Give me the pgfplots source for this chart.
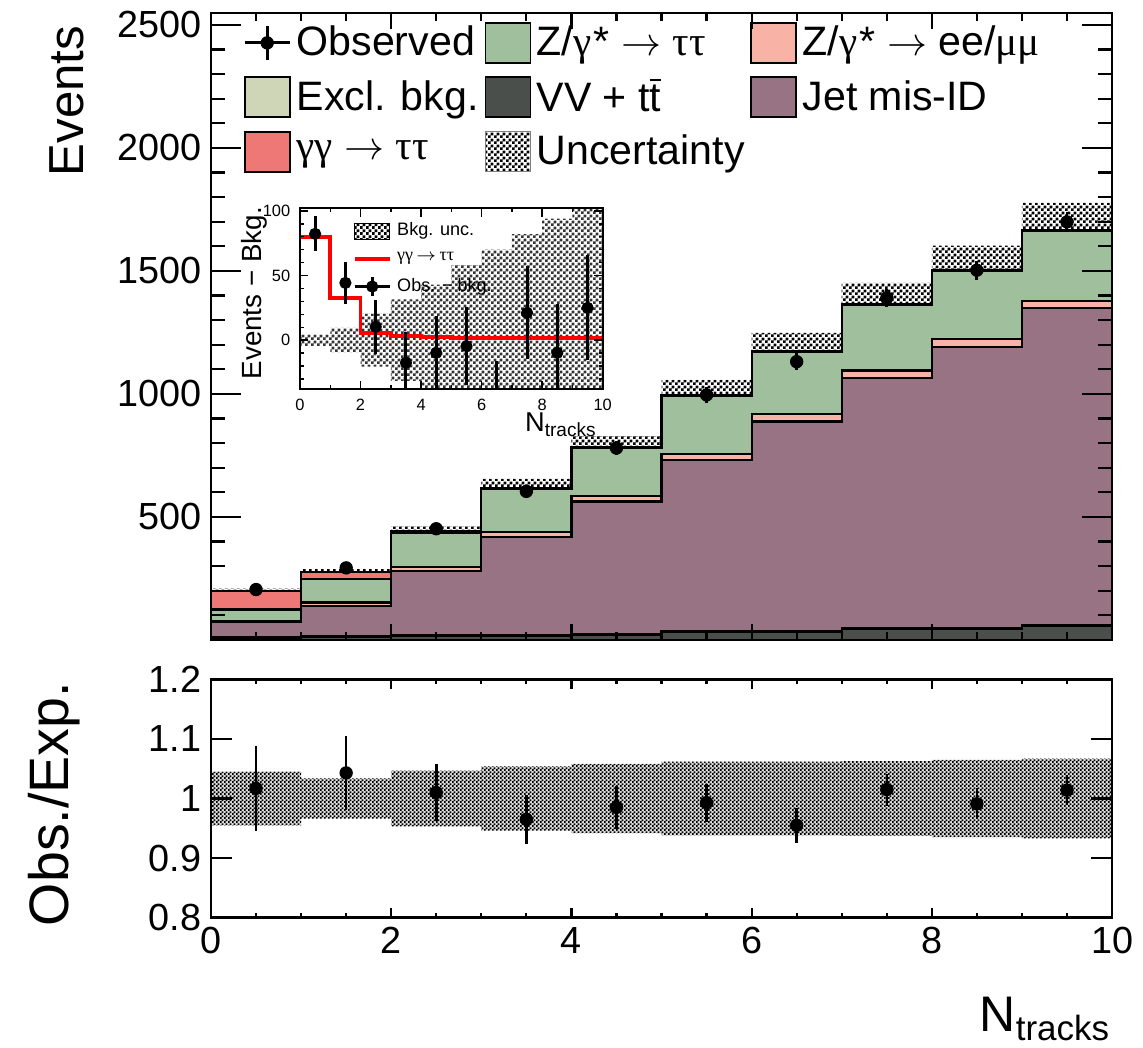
\documentclass[border=0pt]{standalone}
\usepackage{fontspec}
\setmainfont{Liberation Sans}
\newfontfamily\sym{Liberation Serif}
\usepackage{pgfplots}
\usepackage{pgfplotstable}
\pgfplotsset{compat=1.18}
\usepgfplotslibrary{fillbetween}
\usetikzlibrary{patterns}

\definecolor{cztt}{HTML}{9FBF9D}
\definecolor{cee}{HTML}{F8B2A6}
\definecolor{cexcl}{HTML}{CFD5B7}
\definecolor{cvv}{HTML}{4A4F4C}
\definecolor{cjet}{HTML}{987384}
\definecolor{cgg}{HTML}{EE7876}

% ROOT-like checker fill for uncertainty bands
\pgfdeclarepatternformonly{chk}{\pgfqpoint{0pt}{0pt}}{\pgfqpoint{2.2pt}{2.2pt}}{\pgfqpoint{2.2pt}{2.2pt}}{%
  \pgfpathrectangle{\pgfqpoint{0pt}{0pt}}{\pgfqpoint{1.1pt}{1.1pt}}%
  \pgfpathrectangle{\pgfqpoint{1.1pt}{1.1pt}}{\pgfqpoint{1.1pt}{1.1pt}}%
  \pgfusepath{fill}}
\pgfdeclarepatternformonly{chkf}{\pgfqpoint{0pt}{0pt}}{\pgfqpoint{1.5pt}{1.5pt}}{\pgfqpoint{1.5pt}{1.5pt}}{%
  \pgfpathrectangle{\pgfqpoint{0pt}{0pt}}{\pgfqpoint{0.75pt}{0.75pt}}%
  \pgfpathrectangle{\pgfqpoint{0.75pt}{0.75pt}}{\pgfqpoint{0.75pt}{0.75pt}}%
  \pgfusepath{fill}}

\newcommand\tbar{t\llap{\raisebox{0.74em}{\rule{0.26em}{0.06em}}\kern0.01em}}
\newcommand\arr{\ $\rightarrow$\ }

% stacked backgrounds per bin (last row repeats bin 9 for the step plot)
\pgfplotstableread{
x  vv excl jet  ee ztt gg unc runc
0  3  10   61   2  48  75 10  0.045
1  12 4    122  14 97  27 12  0.034
2  15 3    262  16 141 5  20  0.047
3  17 3    399  19 177 3  37  0.054
4  21 2    540  21 196 2  46  0.058
5  33 2    695  25 239 2  61  0.062
6  34 2    852  29 255 2  74  0.062
7  45 2    1017 31 267 2  87  0.063
8  45 2    1145 30 279 2  100 0.065
9  58 2    1288 30 285 2  111 0.067
10 58 2    1288 30 285 2  111 0.067
}\bkg

\pgfplotstableread{
x   n    e    r     re
0.5 205  14.3 1.017 0.072
1.5 293  17.1 1.043 0.062
2.5 452  21.3 1.010 0.048
3.5 604  24.6 0.965 0.041
4.5 780  27.9 0.985 0.036
5.5 996  31.6 0.993 0.032
6.5 1131 33.6 0.955 0.029
7.5 1390 37.3 1.015 0.027
8.5 1503 38.8 0.991 0.026
9.5 1699 41.2 1.014 0.025
}\obs

\pgfplotstableread{
x  bunc gg
0  4.5  79.6
1  9.5  32.7
2  20.5 5.5
3  31.5 3.5
4  43   2.5
5  58   2
6  70   2
7  82   1.8
8  94   1.5
9  110  1.5
10 110  1.5
}\ins

\pgfplotstableread{
x   d     e
0.5 82.2  13.5
1.5 44.3  16.5
2.5 10.3  21
3.5 -17.5 24
4.5 -9.8  28.5
5.5 -4.6  30
6.5 -48   32
7.5 21.1  36
8.5 -9.8  38
9.5 25    40.5
}\insobs

\pgfplotsset{
  rootax/.style={scale only axis, xmin=0, xmax=10, axis on top, tick align=inside,
    axis line style={line width=0.9pt}, tick style={black, line width=0.8pt},
    /pgf/number format/assume math mode=true, /pgf/number format/1000 sep={},
    tick label style={font=\fontsize{13.6}{13.6}\selectfont}},
  mbox/.style={legend image code/.code={\draw[draw=black, line width=0.6pt, fill=#1] (0pt,-7.2pt) rectangle (16.2pt,7.2pt);}},
  mchk/.style={legend image code/.code={\fill[pattern=chk] (0pt,-7.2pt) rectangle (16.2pt,7.2pt); \draw[black!50, line width=0.4pt] (0pt,-7.2pt) rectangle (16.2pt,7.2pt);}},
  mobs/.style={legend image code/.code={\draw[line width=1pt] (0pt,0pt)--(16.2pt,0pt) (8.1pt,-6pt)--(8.1pt,6pt); \fill (8.1pt,0pt) circle (2.2pt);}},
  ichk/.style={legend image code/.code={\fill[pattern=chk] (0pt,-2.9pt) rectangle (12.6pt,2.9pt);}},
  ired/.style={legend image code/.code={\draw[red, line width=1.4pt] (0pt,0pt)--(12.6pt,0pt);}},
  iobs/.style={legend image code/.code={\draw[line width=1.1pt] (0pt,0pt)--(12.6pt,0pt) (6.3pt,-3.5pt)--(6.3pt,3.5pt); \fill (6.3pt,0pt) circle (2pt);}},
}

\begin{document}
\begin{tikzpicture}

% ---------------- main panel ----------------
\begin{axis}[rootax, at={(75.96pt,146.52pt)}, anchor=south west,
  width=324.36pt, height=225.72pt, ymin=0, ymax=2548,
  xtick={0,2,...,10}, minor xtick={0,0.5,...,10}, xticklabels={},
  ytick={500,1000,...,2500}, minor ytick={0,100,...,2500},
  major tick length=10.8pt, minor tick length=5pt,
  xtick style={/pgfplots/major tick length=5.8pt, /pgfplots/minor tick length=2.8pt},
  ylabel={Events},
  every axis y label/.style={at={(axis description cs:-0.16,0.995)}, anchor=east, rotate=90,
    font=\fontsize{17.7}{17.7}\selectfont},
  legend columns=3, legend cell align=left,
  legend style={draw=none, fill=none, at={(axis description cs:0.026,0.998)}, anchor=north west,
    font=\fontsize{14.8}{14.8}\selectfont, column sep=0pt, row sep=2.8pt,
    nodes={inner xsep=0.6pt},
    /tikz/every odd column/.append style={column sep=1.4pt},
    /tikz/every even column/.append style={column sep=1.5pt},
    /tikz/column 4/.append style={column sep=4.4pt}},
]
\addlegendimage{mobs}\addlegendentry{Observed}
\addlegendimage{mbox=cztt}\addlegendentry{Z/{\sym γ}\kern0.06em*\arr{\sym ττ}}
\addlegendimage{mbox=cee}\addlegendentry{Z/{\sym γ}\kern0.06em*\arr ee/{\sym μμ}}
\addlegendimage{mbox=cexcl}\addlegendentry{Excl. bkg.}
\addlegendimage{mbox=cvv}\addlegendentry{VV + t\tbar}
\addlegendimage{mbox=cjet}\addlegendentry{Jet mis-ID}
\addlegendimage{mbox=cgg}\addlegendentry{{\sym γγ}\arr{\sym ττ}}
\addlegendimage{mchk}\addlegendentry{Uncertainty}

\addplot[const plot, fill=cgg, draw=black, line width=0.8pt, forget plot]
  table[x=x, y expr=\thisrow{vv}+\thisrow{excl}+\thisrow{jet}+\thisrow{ee}+\thisrow{ztt}+\thisrow{gg}] {\bkg} \closedcycle;
\addplot[const plot, fill=cztt, draw=black, line width=0.8pt, forget plot]
  table[x=x, y expr=\thisrow{vv}+\thisrow{excl}+\thisrow{jet}+\thisrow{ee}+\thisrow{ztt}] {\bkg} \closedcycle;
\addplot[const plot, fill=cee, draw=black, line width=0.8pt, forget plot]
  table[x=x, y expr=\thisrow{vv}+\thisrow{excl}+\thisrow{jet}+\thisrow{ee}] {\bkg} \closedcycle;
\addplot[const plot, fill=cjet, draw=black, line width=0.8pt, forget plot]
  table[x=x, y expr=\thisrow{vv}+\thisrow{excl}+\thisrow{jet}] {\bkg} \closedcycle;
\addplot[const plot, fill=cexcl, draw=black, line width=0.8pt, forget plot]
  table[x=x, y expr=\thisrow{vv}+\thisrow{excl}] {\bkg} \closedcycle;
\addplot[const plot, fill=cvv, draw=black, line width=0.8pt, forget plot]
  table[x=x, y=vv] {\bkg} \closedcycle;

\addplot[name path=mup, const plot, draw=none, forget plot]
  table[x=x, y expr=\thisrow{vv}+\thisrow{excl}+\thisrow{jet}+\thisrow{ee}+\thisrow{ztt}+\thisrow{gg}+\thisrow{unc}] {\bkg};
\addplot[name path=mlo, const plot, draw=none, forget plot]
  table[x=x, y expr=\thisrow{vv}+\thisrow{excl}+\thisrow{jet}+\thisrow{ee}+\thisrow{ztt}+\thisrow{gg}-\thisrow{unc}] {\bkg};
\addplot[pattern=chk, pattern color=black, forget plot] fill between[of=mup and mlo];

\addplot[only marks, mark=*, mark size=2.2pt, black, forget plot,
  error bars/.cd, y dir=both, y explicit, error mark=none, error bar style={line width=1pt}]
  table[x=x, y=n, y error=e] {\obs};
\end{axis}

% ---------------- ratio panel ----------------
\begin{axis}[rootax, at={(75.96pt,46.62pt)}, anchor=south west,
  width=324.36pt, height=85.68pt, ymin=0.8, ymax=1.2,
  xtick={0,2,...,10}, minor xtick={0,0.5,...,10},
  ytick={0.8,0.9,1,1.1,1.2},
  major tick length=7.6pt,
  xtick style={/pgfplots/major tick length=3.3pt, /pgfplots/minor tick length=1.6pt},
  ylabel={Obs./Exp.}, xlabel={N\textsubscript{tracks}},
  every axis y label/.style={at={(axis description cs:-0.174,1.03)}, anchor=east, rotate=90,
    font=\fontsize{20}{20}\selectfont},
  every axis x label/.style={at={(axis description cs:1,-0.48)}, anchor=base east, xshift=3pt,
    font=\fontsize{18}{18}\selectfont},
]
\addplot[name path=rup, const plot, draw=none] table[x=x, y expr=1+\thisrow{runc}] {\bkg};
\addplot[name path=rlo, const plot, draw=none] table[x=x, y expr=1-\thisrow{runc}] {\bkg};
\addplot[fill=black!15, draw=none] fill between[of=rup and rlo];
\addplot[pattern=chkf, pattern color=black] fill between[of=rup and rlo];
\addplot[only marks, mark=*, mark size=2.2pt, black,
  error bars/.cd, y dir=both, y explicit, error mark=none, error bar style={line width=0.9pt}]
  table[x=x, y=r, y error=re] {\obs};
\end{axis}

% ---------------- inset ----------------
\begin{axis}[rootax, at={(108pt,236.77pt)}, anchor=south west,
  width=108.97pt, height=65.16pt, ymin=-38, ymax=102,
  xtick={0,2,...,10}, minor xtick={0,1,...,10},
  ytick={0,50,100}, minor ytick={-30,-20,...,100},
  major tick length=3pt, minor tick length=1.5pt,
  axis line style={line width=0.7pt}, tick style={black, line width=0.5pt},
  tick label style={font=\fontsize{5.9}{5.9}\selectfont},
  clip marker paths=true,
  ylabel={Events − Bkg.}, xlabel={N\textsubscript{tracks}},
  every axis y label/.style={at={(axis description cs:-0.15,1.06)}, anchor=east, rotate=90,
    font=\fontsize{10}{10}\selectfont},
  every axis x label/.style={at={(axis description cs:1,-0.235)}, anchor=base east, xshift=1.5pt,
    font=\fontsize{9.8}{9.8}\selectfont},
  legend cell align=left,
  legend style={draw=none, fill=none, at={(axis description cs:0.145,0.985)}, anchor=north west,
    font=\fontsize{6.5}{6.5}\selectfont, row sep=0.6pt, nodes={inner xsep=0.5pt},
    /tikz/every odd column/.append style={column sep=1.5pt}},
]
\addlegendimage{ichk}\addlegendentry{Bkg. unc.}
\addlegendimage{ired}\addlegendentry{{\sym γγ}\,$\rightarrow$\,{\sym ττ}}
\addlegendimage{iobs}\addlegendentry{Obs. − bkg.}
\addplot[name path=iup, const plot, draw=none, forget plot] table[x=x, y=bunc] {\ins};
\addplot[name path=ilo, const plot, draw=none, forget plot] table[x=x, y expr=-\thisrow{bunc}] {\ins};
\addplot[pattern=chk, pattern color=black!80, forget plot] fill between[of=iup and ilo];
\addplot[const plot, red, line width=1.4pt, forget plot] table[x=x, y=gg] {\ins};
\addplot[only marks, mark=*, mark size=2pt, black, forget plot,
  error bars/.cd, y dir=both, y explicit, error mark=none, error bar style={line width=1.1pt}]
  table[x=x, y=d, y error=e] {\insobs};
\end{axis}

\pgfresetboundingbox
\path[use as bounding box] (0,0) rectangle (411.48pt,376.92pt);
\end{tikzpicture}
\end{document}
